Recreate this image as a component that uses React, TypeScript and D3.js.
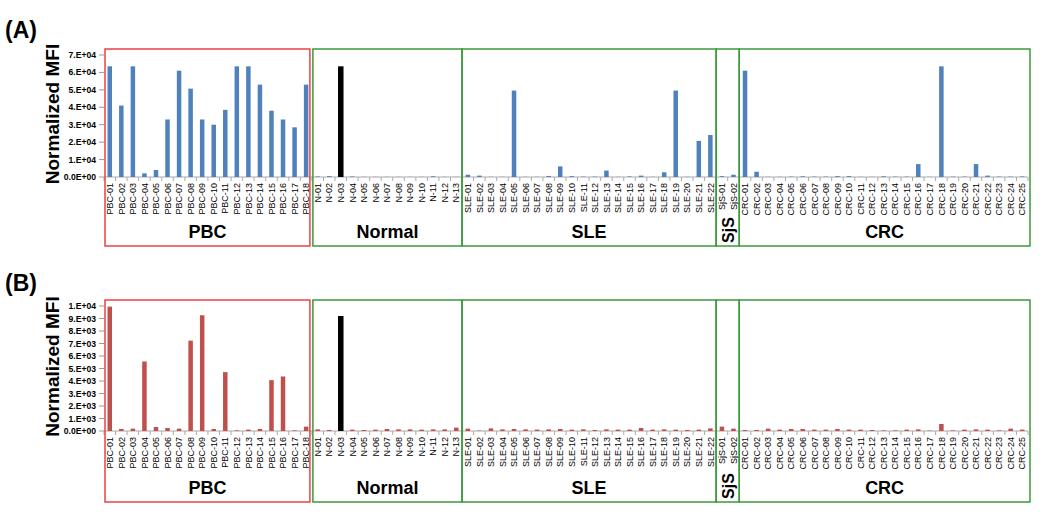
import React from "react";
import * as d3 from "d3";

const groups = [
  { name: "PBC", prefix: "PBC", n: 18, box: "#ee4040" },
  { name: "Normal", prefix: "N", n: 13, box: "#3a9a3a" },
  { name: "SLE", prefix: "SLE", n: 22, box: "#3a9a3a" },
  { name: "SjS", prefix: "SjS", n: 2, box: "#3a9a3a" },
  { name: "CRC", prefix: "CRC", n: 25, box: "#3a9a3a" },
];

const categories: string[] = groups.flatMap((g) =>
  d3.range(1, g.n + 1).map((i) => `${g.prefix}-${String(i).padStart(2, "0")}`)
);

// Panel A values
const valuesA: number[] = [
  // PBC
  63500, 41000, 63500, 2100, 4000, 33000, 61000, 50700, 33000, 30000, 38500, 63500, 63500, 53000, 38000, 33000, 28500, 53000,
  // Normal
  300, 500, 63500, 300, 100, 100, 100, 100, 100, 100, 400, 100, 100,
  // SLE
  1300, 800, 100, 100, 49600, 100, 100, 600, 6100, 500, 200, 200, 3700, 100, 300, 800, 100, 2700, 49600, 100, 20700, 24100,
  // SjS
  500, 1300,
  // CRC
  61000, 3000, 100, 100, 200, 400, 200, 200, 500, 500, 100, 100, 400, 200, 200, 7400, 100, 63500, 200, 200, 7400, 800, 200, 200, 300,
];

// Panel B values
const valuesB: number[] = [
  // PBC
  9950, 160, 190, 5560, 320, 240, 190, 7230, 9260, 160, 4710, 50, 110, 160, 4070, 4360, 50, 350,
  // Normal
  130, 80, 9200, 110, 80, 110, 160, 130, 130, 110, 130, 130, 270,
  // SLE
  190, 30, 210, 130, 160, 130, 110, 130, 160, 110, 130, 80, 130, 110, 110, 240, 110, 130, 110, 80, 110, 210,
  // SjS
  350, 190,
  // CRC
  80, 80, 190, 110, 160, 160, 110, 110, 160, 110, 110, 80, 50, 50, 110, 130, 30, 560, 50, 110, 130, 110, 50, 190, 110,
];

const ticksA = [0, 10000, 20000, 30000, 40000, 50000, 60000, 70000];
const tickLabelsA = ["0.0E+00", "1.E+04", "2.E+04", "3.E+04", "4.E+04", "5.E+04", "6.E+04", "7.E+04"];
const ticksB = [0, 1000, 2000, 3000, 4000, 5000, 6000, 7000, 8000, 9000, 10000];
const tickLabelsB = ["0.0E+00", "1.E+03", "2.E+03", "3.E+03", "4.E+03", "5.E+03", "6.E+03", "7.E+03", "8.E+03", "9.E+03", "1.E+04"];

const highlight = "N-03";

const x = d3.scaleBand<string>().domain(categories).range([104, 1028]).padding(0);

const FONT = "Liberation Sans, Arial, sans-serif";

function Panel({
  label, labelY, values, ticks, tickLabels, max, yTop, yBase, boxTop, boxBottom, color, groupLabelY,
}: {
  label: string; labelY: number; values: number[]; ticks: number[]; tickLabels: string[]; max: number;
  yTop: number; yBase: number; boxTop: number; boxBottom: number; color: string; groupLabelY: number;
}) {
  const y = d3.scaleLinear().domain([0, max]).range([yBase, yTop]);
  const bw = x.bandwidth();
  let start = 0;
  const boxes = groups.map((g, gi) => {
    const first = categories[start];
    const last = categories[start + g.n - 1];
    start += g.n;
    let left = x(first)!;
    let right = x(last)! + bw;
    if (gi === 0) { left += 1; right -= 2; }
    if (gi === 1) { left += 1; }
    if (gi === groups.length - 1) { right += 2; }
    return { g, left, right };
  });
  return (
    <g>
      <text x={5} y={labelY} fontFamily={FONT} fontWeight="bold" fontSize={23}>{label}</text>
      <text
        transform={`translate(59,${(yTop + yBase) / 2 - 2}) rotate(-90)`}
        textAnchor="middle" fontFamily={FONT} fontWeight="bold" fontSize={19}
      >Normalized MFI</text>
      {ticks.map((t, i) => (
        <g key={t}>
          <line x1={99} x2={104} y1={y(t)} y2={y(t)} stroke="#999" strokeWidth={1} />
          <text x={96} y={y(t)} dy="0.35em" textAnchor="end" fontFamily={FONT} fontWeight="bold" fontSize={8.6}>{tickLabels[i]}</text>
        </g>
      ))}
      <line x1={104} x2={1028} y1={yBase} y2={yBase} stroke="#aaa" strokeWidth={1} />
      {d3.range(categories.length + 1).map((i) => {
        const px = 104 + i * bw;
        return <line key={i} x1={px} x2={px} y1={yBase} y2={yBase + 4} stroke="#aaa" strokeWidth={1} />;
      })}
      {categories.map((c, i) => {
        const isH = c === highlight;
        const w = isH ? 5.5 : 4.5;
        const cx = x(c)! + bw / 2;
        return (
          <rect key={c} x={cx - w / 2} width={w} y={y(values[i])} height={yBase - y(values[i])}
            fill={isH ? "#000" : color} />
        );
      })}
      {categories.map((c) => {
        const cx = x(c)! + bw / 2;
        return (
          <text key={c} transform={`translate(${cx + 3.2},${yBase + 6}) rotate(-90)`} textAnchor="end"
            fontFamily={FONT} fontSize={9}>{c}</text>
        );
      })}
      {boxes.map(({ g, left, right }) => (
        <g key={g.name}>
          <rect x={left} y={boxTop} width={right - left} height={boxBottom - boxTop} fill="none" stroke={g.box} strokeWidth={1.5} />
          {g.name === "SjS" ? (
            <text transform={`translate(${(left + right) / 2 + 6},${groupLabelY - 2}) rotate(-90)`} textAnchor="middle"
              fontFamily={FONT} fontWeight="bold" fontSize={16}>{g.name}</text>
          ) : (
            <text x={(left + right) / 2} y={groupLabelY + 6} textAnchor="middle"
              fontFamily={FONT} fontWeight="bold" fontSize={18}>{g.name}</text>
          )}
        </g>
      ))}
    </g>
  );
}

export default function App() {
  return (
    <div style={{ position: "absolute", left: 0, top: 0 }}>
      <svg width={1050} height={521} style={{ display: "block", background: "#fff" }}>
        <Panel label="(A)" labelY={38} values={valuesA} ticks={ticksA} tickLabels={tickLabelsA} max={70000}
          yTop={55} yBase={177} boxTop={49} boxBottom={246} color="#4f81bd" groupLabelY={232} />
        <Panel label="(B)" labelY={291} values={valuesB} ticks={ticksB} tickLabels={tickLabelsB} max={10000}
          yTop={306} yBase={431} boxTop={300} boxBottom={502} color="#c0504d" groupLabelY={488} />
      </svg>
    </div>
  );
}
